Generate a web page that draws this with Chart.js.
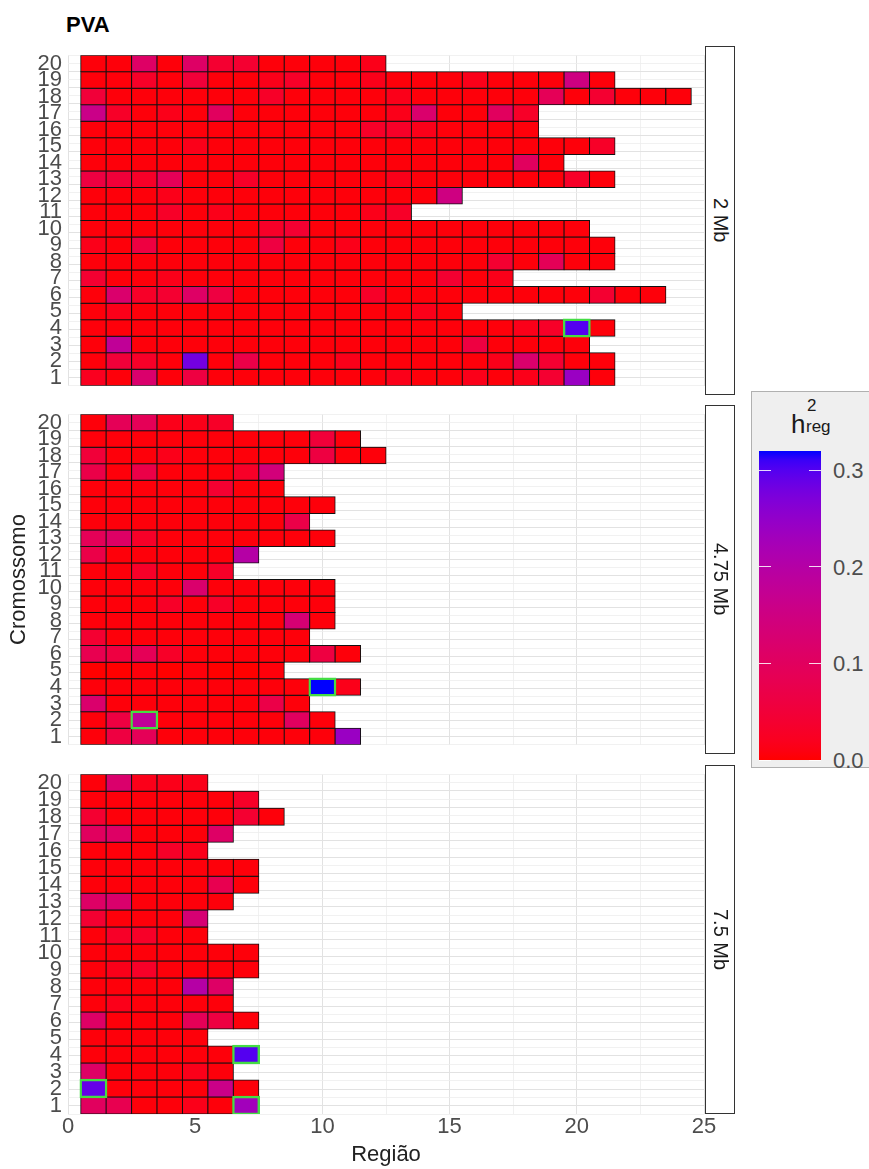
<!DOCTYPE html>
<html><head><meta charset="utf-8">
<script src="https://cdn.jsdelivr.net/npm/chart.js@4.4.0/dist/chart.umd.min.js"></script>
<style>
html,body{margin:0;padding:0;background:#fff;}
body{width:869px;height:1169px;overflow:hidden;position:relative;font-family:'Liberation Sans',Arial,sans-serif;}
canvas{position:absolute;left:0;}
#title{position:absolute;left:66px;top:14px;font-weight:bold;font-size:22px;line-height:22px;color:#000;}
.strip{position:absolute;left:705px;width:30px;border:1.3px solid #333;background:#fff;box-sizing:border-box;display:flex;align-items:center;justify-content:center;}
.strip span{writing-mode:vertical-rl;font-size:20px;color:#1a1a1a;white-space:nowrap;}
#legend{position:absolute;left:751px;top:391px;width:130px;height:377px;background:#efefef;border:1px solid #b0b0b0;box-sizing:border-box;}
.lt{position:absolute;color:#1a1a1a;white-space:nowrap;}
.ll{position:absolute;left:833px;font-size:22px;line-height:22px;color:#4d4d4d;}
.tk{position:absolute;height:1px;width:12px;background:rgba(255,255,255,0.85);}
</style></head><body>
<div id="title">PVA</div>
<canvas id="c1" width="740" height="369" style="top:36px"></canvas>
<canvas id="c2" width="740" height="369" style="top:395px"></canvas>
<canvas id="c3" width="740" height="414" style="top:755px"></canvas>
<div id="legend"></div>
<div id="bar" style="position:absolute;left:759px;top:451px;width:62px;height:309px;"></div>
<script>
const chromosomes = ['20','19','18','17','16','15','14','13','12','11','10','9','8','7','6','5','4','3','2','1'];
const xTickLabels = ['0','5','10','15','20','25'];
const panelLabels = ['2 Mb','4.75 Mb','7.5 Mb'];
const legendTicks = [0.0, 0.1, 0.2, 0.3];

// h2_reg per chromosome (row index 0 = chromosome 1), per region
const h2_2Mb = [
  [.02,.005,.12,.005,.06,.005,.005,.005,.005,.005,.005,.005,.015,.005,.005,.015,.005,.015,.04,.24,.005],
  [.005,.05,.03,.005,.28,.005,.07,.005,.005,.005,.015,.005,.005,.005,.005,.005,.015,.12,.04,.005,.005],
  [.005,.18,.005,.005,.005,.005,.005,.005,.005,.005,.005,.005,.005,.005,.005,.06,.005,.005,.005,.005],
  [.005,.005,.005,.005,.005,.005,.005,.005,.005,.005,.005,.005,.005,.005,.005,.005,.005,.015,.03,.30,.005],
  [.005,.015,.005,.005,.005,.005,.005,.005,.005,.005,.005,.005,.005,.015,.005],
  [.005,.12,.03,.04,.11,.06,.005,.005,.005,.005,.005,.03,.005,.005,.005,.005,.005,.005,.005,.005,.04,.005,.005],
  [.04,.005,.005,.015,.005,.005,.005,.005,.005,.005,.005,.005,.005,.005,.04,.005,.015],
  [.005,.005,.005,.005,.005,.005,.005,.005,.005,.005,.005,.005,.005,.005,.005,.005,.04,.005,.09,.005,.005],
  [.015,.005,.06,.005,.005,.005,.005,.06,.005,.005,.015,.005,.005,.005,.005,.005,.005,.005,.005,.005,.005],
  [.005,.005,.005,.005,.005,.005,.005,.03,.04,.005,.005,.005,.005,.005,.005,.005,.005,.005,.005,.005],
  [.005,.005,.005,.03,.005,.015,.005,.005,.005,.005,.005,.015,.03],
  [.005,.005,.005,.015,.005,.005,.005,.005,.005,.005,.005,.005,.005,.005,.15],
  [.06,.05,.03,.09,.005,.005,.03,.005,.005,.005,.005,.005,.015,.005,.005,.005,.005,.005,.005,.03,.005],
  [.005,.005,.005,.005,.005,.005,.005,.005,.005,.005,.005,.005,.005,.005,.005,.005,.005,.10,.005],
  [.005,.005,.005,.005,.015,.005,.005,.005,.005,.005,.005,.005,.005,.005,.005,.005,.005,.005,.005,.005,.03],
  [.005,.005,.005,.005,.005,.005,.005,.005,.005,.005,.005,.03,.03,.015,.005,.005,.005,.005],
  [.16,.03,.005,.015,.005,.10,.005,.005,.005,.005,.005,.005,.015,.12,.005,.005,.10,.03],
  [.05,.005,.005,.005,.005,.005,.005,.03,.005,.005,.005,.005,.015,.005,.005,.005,.005,.005,.09,.005,.04,.005,.005,.005],
  [.005,.005,.03,.005,.05,.005,.005,.015,.03,.005,.005,.015,.005,.005,.005,.015,.005,.005,.005,.15,.005],
  [.005,.005,.11,.005,.11,.04,.04,.005,.005,.005,.005,.015]
];
const h2_475Mb = [
  [.005,.06,.09,.005,.005,.005,.005,.005,.005,.005,.24],
  [.005,.06,.18,.005,.005,.005,.005,.005,.10,.005],
  [.12,.005,.005,.005,.005,.005,.005,.07,.005],
  [.005,.005,.005,.005,.005,.005,.005,.005,.005,.32,.015],
  [0,0,.005,0,.005,0,0,.005],
  [.08,.06,.09,.03,.005,.005,.005,.005,.005,.06,.005],
  [.04,.005,.005,.005,.005,.005,.005,.005,.005],
  [.005,.005,.005,.005,.005,.005,.005,.005,.13,.005],
  [.005,.005,.005,.03,.005,.03,.005,.005,.005,.005],
  [.005,.005,.005,.005,.12,.005,.005,.005,.005,.005],
  [.005,.005,.03,.005,.005,.03],
  [.07,.005,.005,.005,.005,.005,.20],
  [.09,.11,.03,.005,.005,.005,.005,.005,.005,.005],
  [.005,.005,.005,.005,.005,.005,.005,.005,.07],
  [.005,.005,.005,.005,.005,.005,.005,.005,.005,.005],
  [.005,.005,.005,.005,.005,.04,.005,.005],
  [.07,.005,.07,.005,.005,.005,.03,.14],
  [.05,.005,.005,.015,.005,.005,.005,.005,.005,.06,.005,.005],
  [.005,.005,.005,.005,.005,.005,.005,.005,.005,.05,.005],
  [.005,.09,.09,.015,.015,.03]
];
const h2_75Mb = [
  [.10,.08,.005,.005,.015,.005,.23],
  [.29,.005,.005,.005,.005,.16,.005],
  [.11,.005,.005,.005,.015,.005],
  [.005,.005,.005,.005,.005,.005,.30],
  [.005,.005,.005,.005,.005],
  [.11,.005,.005,.005,.09,.06,.005],
  [.005,.015,.005,.005,.005,.005],
  [.005,.005,.005,.005,.20,.11],
  [.005,.015,.03,.005,.005,.005,.005],
  [.005,.005,.005,.005,.005,.005,.005],
  [.005,.03,.03,.005,.005],
  [.04,.005,.005,.005,.13],
  [.11,.12,.005,.005,.005,.005],
  [.005,.005,.005,.005,.005,.08,.005],
  [.005,.005,.005,.005,.005,.005,.005],
  [.005,.005,.005,.03,.015],
  [.10,.11,.005,.005,.005,.11],
  [.04,.005,.005,.005,.005,.005,.04,.005],
  [.005,.005,.005,.005,.005,.005,.03],
  [.005,.12,.015,.015,.015]
];
// highlighted cells [chromosome, region]
const hl_2Mb = [[4,20]];
const hl_475Mb = [[4,10],[2,3]];
const hl_75Mb = [[4,7],[2,1],[1,7]];

// ---- colour scale: red -> blue interpolated in CIELAB ----
function lin(c){c/=255;return c<=0.04045?c/12.92:Math.pow((c+0.055)/1.055,2.4);}
function gam(c){c=c<=0.0031308?12.92*c:1.055*Math.pow(c,1/2.4)-0.055;return Math.round(Math.max(0,Math.min(1,c))*255);}
function toLab(rgb){const R=lin(rgb[0]),G=lin(rgb[1]),B=lin(rgb[2]);
  const X=(0.4124564*R+0.3575761*G+0.1804375*B)/0.95047,Y=0.2126729*R+0.7151522*G+0.0721750*B,Z=(0.0193339*R+0.1191920*G+0.9503041*B)/1.08883;
  const f=t=>t>216/24389?Math.cbrt(t):(24389/27*t+16)/116;const fx=f(X),fy=f(Y),fz=f(Z);
  return [116*fy-16,500*(fx-fy),200*(fy-fz)];}
function fromLab(l){const fy=(l[0]+16)/116,fx=fy+l[1]/500,fz=fy-l[2]/200;
  const fi=t=>{const t3=t*t*t;return t3>216/24389?t3:(116*t-16)/(24389/27);};
  const X=fi(fx)*0.95047,Y=fi(fy),Z=fi(fz)*1.08883;
  return [gam(3.2404542*X-1.5371385*Y-0.4985314*Z),gam(-0.9692660*X+1.8760108*Y+0.0415560*Z),gam(0.0556434*X-0.2040259*Y+1.0572252*Z)];}
const LAB_LO=toLab([255,0,0]), LAB_HI=toLab([0,0,255]);
const allVals=[...h2_2Mb.flat(),...h2_475Mb.flat(),...h2_75Mb.flat()];
const vmin=Math.min(...allVals), vmax=Math.max(...allVals);
function colorFor(v){let t=(v-vmin)/(vmax-vmin);t=Math.max(0,Math.min(1,t));
  const c=fromLab([0,1,2].map(k=>LAB_LO[k]+(LAB_HI[k]-LAB_LO[k])*t));return 'rgb('+c.join(',')+')';}

Chart.defaults.font.family="'Liberation Sans', Arial, sans-serif";

function makePanel(id, values, highlights, showX, yTitle){
  const cells=[];
  values.forEach((row,i)=>row.forEach((v,j)=>cells.push({y:String(i+1),x:[j+0.5,j+1.5],v:v})));
  const marked=highlights.map(([c,r])=>({y:String(c),x:[r-0.5,r+0.5],v:values[c-1][r-1]}));
  const fill=ctx=>ctx.raw?colorFor(ctx.raw.v):'red';
  const common={backgroundColor:fill,borderSkipped:false,grouped:false,barPercentage:1,categoryPercentage:1,yAxisID:'y',xAxisID:'x'};
  return new Chart(document.getElementById(id),{
    type:'bar',
    data:{datasets:[
      Object.assign({data:marked,borderColor:'#44dd44',borderWidth:2.4,inflateAmount:1.2,order:0},common),
      Object.assign({data:cells,borderColor:'#111',borderWidth:1,inflateAmount:0.5,order:1},common)
    ]},
    options:{
      indexAxis:'y',responsive:false,animation:false,events:[],
      layout:{padding:{top:10,bottom:showX?0:10,left:0,right:36}},
      plugins:{legend:{display:false},tooltip:{enabled:false}},
      scales:{
        x:{type:'linear',position:'bottom',min:0,max:25,border:{display:false},
          grid:{drawTicks:false,color:c=>(c.tick&&c.tick.value%5===0)?'#e2e2e2':'#eeeeee',lineWidth:c=>(c.tick&&c.tick.value%5===0)?1:0.8},
          ticks:{display:showX,stepSize:2.5,autoSkip:false,maxRotation:0,minRotation:0,padding:0,color:'#4d4d4d',font:{size:22},
            callback:v=>(xTickLabels.includes(String(v))?String(v):'')},
          title:{display:showX,text:'Região',color:'#222',font:{size:22},padding:{top:0,bottom:1}},
          afterFit:s=>{s.height=showX?55:0;}},
        y:{type:'category',labels:chromosomes,position:'left',offset:true,border:{display:false},
          grid:{display:false,drawTicks:false},
          ticks:{color:'#4d4d4d',font:{size:22},padding:6,autoSkip:false},
          title:{display:!!yTitle,text:yTitle||'',color:'#222',font:{size:22},padding:{top:6,bottom:0}},
          afterFit:s=>{s.width=68;}},
        yg:{type:'linear',position:'left',min:0.5,max:20.5,border:{display:false},
          grid:{drawTicks:false,color:c=>(c.tick&&Number.isInteger(c.tick.value))?'#e2e2e2':'#eeeeee',lineWidth:c=>(c.tick&&Number.isInteger(c.tick.value))?1:0.8},
          ticks:{display:false,stepSize:0.5,autoSkip:false},
          afterFit:s=>{s.width=0;}}
      }
    }
  });
}
makePanel('c1',h2_2Mb,hl_2Mb,false,null);
makePanel('c2',h2_475Mb,hl_475Mb,false,'Cromossomo');
makePanel('c3',h2_75Mb,hl_75Mb,true,null);

// strips
const panelTops=[46,405,765];
panelLabels.forEach((lab,i)=>{const d=document.createElement('div');d.className='strip';
  d.style.top=panelTops[i]+'px';d.style.height='349px';const s=document.createElement('span');s.textContent=lab;d.appendChild(s);document.body.appendChild(d);});

// legend
const bar=document.getElementById('bar');
const stops=[];for(let k=0;k<=32;k++){const t=k/32;stops.push(colorFor(vmin+(vmax-vmin)*t)+' '+(t*100).toFixed(2)+'%');}
bar.style.background='linear-gradient(to top,'+stops.join(',')+')';
function addEl(cls,txt,css){const e=document.createElement('div');e.className=cls;if(txt!==null)e.textContent=txt;Object.assign(e.style,css);document.body.appendChild(e);return e;}
addEl('lt','h',{left:'791px',top:'411px',fontSize:'26px',lineHeight:'26px'});
addEl('lt','2',{left:'807px',top:'397px',fontSize:'17px',lineHeight:'17px'});
addEl('lt','reg',{left:'806px',top:'418px',fontSize:'17px',lineHeight:'17px'});
const barTop=451,barH=309;
legendTicks.forEach(v=>{const y=barTop+barH-(v-vmin)/(vmax-vmin)*barH;
  addEl('tk',null,{left:'759px',top:(y-0.5)+'px'});addEl('tk',null,{left:'809px',top:(y-0.5)+'px'});
  addEl('ll',v.toFixed(1),{top:(y-10)+'px'});});
</script>
</body></html>
